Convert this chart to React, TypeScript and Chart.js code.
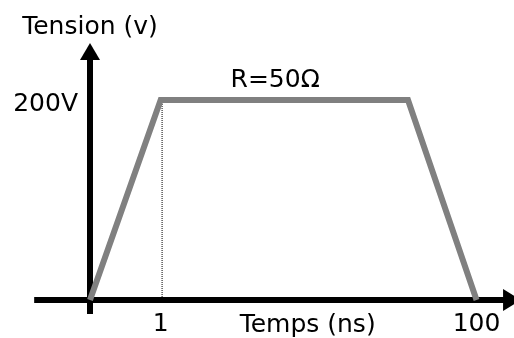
import { useEffect, useRef } from "react";
import { Chart, registerables } from "chart.js";

Chart.register(...registerables);

// ---- data (schematic time units, volts) ----
const timeValues = [0, 1, 4.5, 5.47];
const voltageValues = [0, 200, 200, 0];
const markerTime = [1.02, 1.02];
const markerVoltage = [200, 0];
const xTickValues = [1, 5.47];
const xTickLabels = ["1", "100"];
const yTickValues = [200];
const yTickLabels = ["200V"];
const xTitle = "Temps (ns)";
const yTitle = "Tension (v)";
const pulseNote = "R=50Ω";

const FONT = "'DejaVu Sans', sans-serif";
const FONT_SIZE = 25;

const arrowAxesPlugin = {
  id: "arrowAxes",
  beforeDatasetsDraw(chart: any) {
    const { ctx } = chart;
    const xs = chart.scales.x;
    const ys = chart.scales.y;
    const x0 = xs.getPixelForValue(0);
    const y0 = ys.getPixelForValue(0);
    ctx.save();
    ctx.fillStyle = "#000";
    // vertical axis with arrow
    const yTip = ys.getPixelForValue(257);
    const yBottom = ys.getPixelForValue(-14);
    const headLen = 17;
    ctx.fillRect(x0 - 3, yTip + headLen - 1, 6, yBottom - (yTip + headLen - 1));
    ctx.beginPath();
    ctx.moveTo(x0, yTip);
    ctx.lineTo(x0 + 10, yTip + headLen);
    ctx.lineTo(x0 - 10, yTip + headLen);
    ctx.closePath();
    ctx.fill();
    // horizontal axis with arrow
    const xLeft = xs.getPixelForValue(-0.79);
    const xTip = xs.getPixelForValue(6.1);
    ctx.fillRect(xLeft, y0 - 3, xTip - 17 - xLeft, 6);
    ctx.beginPath();
    ctx.moveTo(xTip, y0);
    ctx.lineTo(xTip - 18, y0 - 11);
    ctx.lineTo(xTip - 18, y0 + 11);
    ctx.closePath();
    ctx.fill();
    ctx.restore();
  },
  afterDraw(chart: any) {
    const { ctx } = chart;
    const xs = chart.scales.x;
    const ys = chart.scales.y;
    ctx.save();
    ctx.fillStyle = "#000";
    ctx.font = `${FONT_SIZE}px ${FONT}`;
    ctx.textAlign = "center";
    ctx.textBaseline = "alphabetic";
    ctx.fillText(yTitle, xs.getPixelForValue(0), ys.getPixelForValue(266));
    ctx.fillText(xTitle, xs.getPixelForValue(3.08), ys.getPixelForValue(-32));
    ctx.fillText(pulseNote, xs.getPixelForValue(2.62), ys.getPixelForValue(213));
    ctx.restore();
  },
};

export default function App() {
  const ref = useRef<HTMLCanvasElement | null>(null);
  useEffect(() => {
    if (!ref.current) return;
    const chart = new Chart(ref.current, {
      type: "line",
      data: {
        datasets: [
          {
            data: timeValues.map((t, i) => ({ x: t, y: voltageValues[i] })),
            borderColor: "#808080",
            borderWidth: 6,
            borderJoinStyle: "miter",
            borderCapStyle: "butt",
            pointRadius: 0,
            tension: 0,
            clip: false,
          },
          {
            data: markerTime.map((t, i) => ({ x: t, y: markerVoltage[i] })),
            borderColor: "#000",
            borderWidth: 1,
            borderDash: [1, 1],
            pointRadius: 0,
            clip: false,
          },
        ],
      },
      options: {
        responsive: false,
        animation: false,
        layout: { padding: 0 },
        plugins: { legend: { display: false }, tooltip: { enabled: false } },
        scales: {
          x: {
            type: "linear",
            min: 0,
            max: 6,
            grid: { display: false, drawTicks: false },
            border: { display: false },
            afterBuildTicks: (s: any) => {
              s.ticks = xTickValues.map((v) => ({ value: v }));
            },
            afterFit: (s: any) => {
              s.height = 38;
              s.paddingLeft = 0;
              s.paddingRight = 0;
            },
            ticks: {
              autoSkip: false,
              maxRotation: 0,
              padding: 9,
              color: "#000",
              font: { family: FONT, size: FONT_SIZE },
              callback: (_v: any, i: number) => xTickLabels[i],
            },
          },
          y: {
            type: "linear",
            min: 0,
            max: 300,
            grid: { display: false, drawTicks: false },
            border: { display: false },
            afterBuildTicks: (s: any) => {
              s.ticks = yTickValues.map((v) => ({ value: v }));
            },
            afterFit: (s: any) => {
              s.width = 90;
              s.paddingTop = 0;
              s.paddingBottom = 0;
            },
            ticks: {
              autoSkip: false,
              padding: 12,
              labelOffset: 4,
              color: "#000",
              font: { family: FONT, size: FONT_SIZE },
              callback: (_v: any, i: number) => yTickLabels[i],
            },
          },
        },
      },
      plugins: [arrowAxesPlugin],
    } as any);
    return () => chart.destroy();
  }, []);
  return (
    <div style={{ position: "fixed", left: 0, top: 0, width: 514, height: 338, background: "#fff" }}>
      <canvas ref={ref} width={514} height={338} style={{ display: "block" }} />
    </div>
  );
}
